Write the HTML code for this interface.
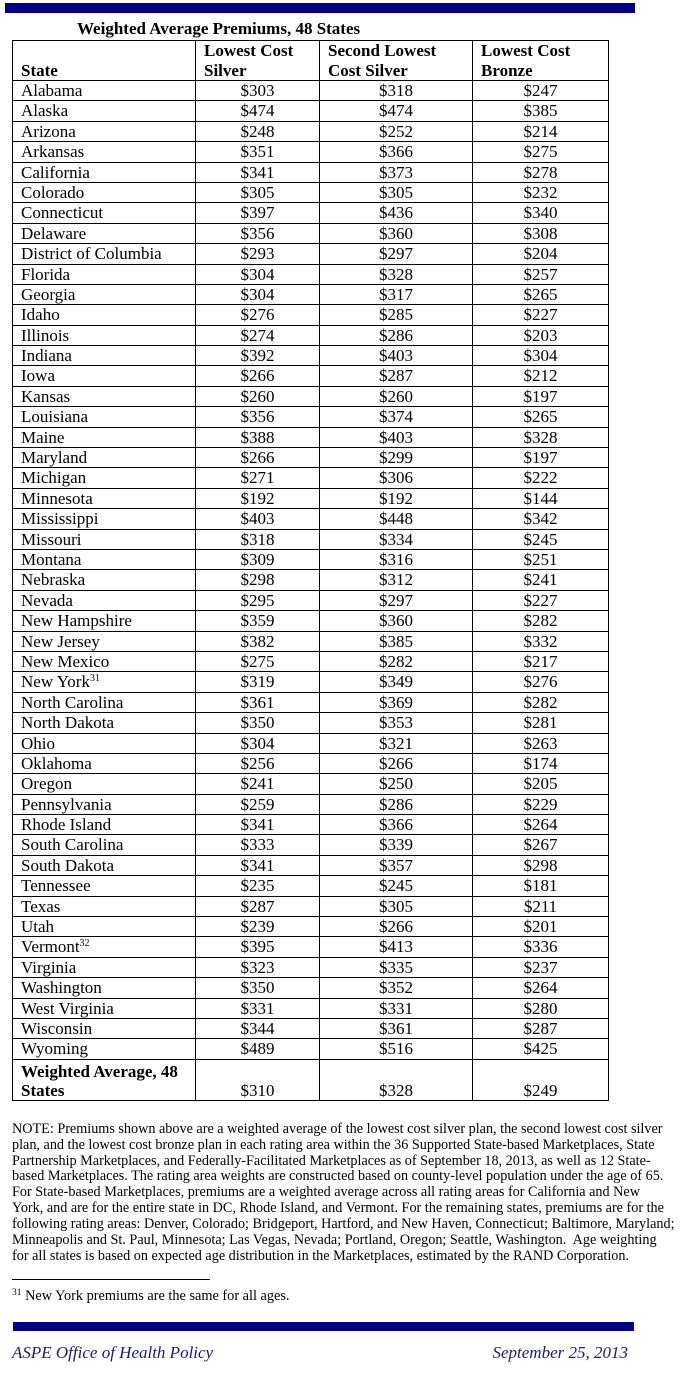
<!DOCTYPE html>
<html>
<head>
<meta charset="utf-8">
<style>
  html, body { margin:0; padding:0; background:#fff; }
  body { width:684px; height:1373px; position:relative; overflow:hidden; font-family:"Liberation Serif", serif; color:#000; }
  .bar { position:absolute; background:#000080; }
  .title { position:absolute; left:77px; top:18.5px; font-weight:bold; font-size:17px; line-height:20px; white-space:nowrap; }
  .t { position:absolute; left:12px; top:40px; width:597px; border:1px solid #000; box-sizing:border-box; font-size:17px; }
  .h, .r, .l { display:grid; grid-template-columns:183px 124px 153px 1fr; box-sizing:border-box; border-bottom:1px solid #000; }
  .h { height:40px; font-weight:bold; line-height:19.5px; }
  .r { height:20.406px; line-height:19.4px; }
  .l { height:40px; border-bottom:none; line-height:19px; }
  .h > div, .r > div, .l > div { border-right:1px solid #000; white-space:nowrap; overflow:visible; }
  .h > div:last-child, .r > div:last-child, .l > div:last-child { border-right:none; }
  .h > div { display:flex; flex-direction:column; justify-content:flex-end; padding-left:8px; }
  .r > div:first-child { padding-left:8px; }
  .r > div + div { text-align:center; }
  .l > div { display:flex; flex-direction:column; justify-content:flex-end; }
  .l > div:first-child { padding-left:8px; font-weight:bold; }
  .l > div + div { text-align:center; }
  sup { font-size:10px; line-height:0; vertical-align:6px; }
  .note { position:absolute; left:12px; top:1121.6px; font-size:14.2px; line-height:15.95px; white-space:nowrap; }
  .rule { position:absolute; left:12px; top:1279px; width:198px; height:1px; background:#000; }
  .fn { position:absolute; left:12px; top:1287.5px; font-size:14.3px; line-height:16px; white-space:nowrap; }
  .fn sup { font-size:9.5px; vertical-align:5px; }
  .foot { position:absolute; top:1343px; font-style:italic; font-size:17px; line-height:20px; color:#1a1a6e; white-space:nowrap; }
</style>
</head>
<body>
<div class="bar" style="left:5px; top:3px; width:630px; height:10px;"></div>
<div class="title">Weighted Average Premiums, 48 States</div>

<div class="t">
  <div class="h"><div>State</div><div><span>Lowest Cost</span><span>Silver</span></div><div><span>Second Lowest</span><span>Cost Silver</span></div><div><span>Lowest Cost</span><span>Bronze</span></div></div>
  <div class="r"><div>Alabama</div><div>$303</div><div>$318</div><div>$247</div></div>
  <div class="r"><div>Alaska</div><div>$474</div><div>$474</div><div>$385</div></div>
  <div class="r"><div>Arizona</div><div>$248</div><div>$252</div><div>$214</div></div>
  <div class="r"><div>Arkansas</div><div>$351</div><div>$366</div><div>$275</div></div>
  <div class="r"><div>California</div><div>$341</div><div>$373</div><div>$278</div></div>
  <div class="r"><div>Colorado</div><div>$305</div><div>$305</div><div>$232</div></div>
  <div class="r"><div>Connecticut</div><div>$397</div><div>$436</div><div>$340</div></div>
  <div class="r"><div>Delaware</div><div>$356</div><div>$360</div><div>$308</div></div>
  <div class="r"><div>District of Columbia</div><div>$293</div><div>$297</div><div>$204</div></div>
  <div class="r"><div>Florida</div><div>$304</div><div>$328</div><div>$257</div></div>
  <div class="r"><div>Georgia</div><div>$304</div><div>$317</div><div>$265</div></div>
  <div class="r"><div>Idaho</div><div>$276</div><div>$285</div><div>$227</div></div>
  <div class="r"><div>Illinois</div><div>$274</div><div>$286</div><div>$203</div></div>
  <div class="r"><div>Indiana</div><div>$392</div><div>$403</div><div>$304</div></div>
  <div class="r"><div>Iowa</div><div>$266</div><div>$287</div><div>$212</div></div>
  <div class="r"><div>Kansas</div><div>$260</div><div>$260</div><div>$197</div></div>
  <div class="r"><div>Louisiana</div><div>$356</div><div>$374</div><div>$265</div></div>
  <div class="r"><div>Maine</div><div>$388</div><div>$403</div><div>$328</div></div>
  <div class="r"><div>Maryland</div><div>$266</div><div>$299</div><div>$197</div></div>
  <div class="r"><div>Michigan</div><div>$271</div><div>$306</div><div>$222</div></div>
  <div class="r"><div>Minnesota</div><div>$192</div><div>$192</div><div>$144</div></div>
  <div class="r"><div>Mississippi</div><div>$403</div><div>$448</div><div>$342</div></div>
  <div class="r"><div>Missouri</div><div>$318</div><div>$334</div><div>$245</div></div>
  <div class="r"><div>Montana</div><div>$309</div><div>$316</div><div>$251</div></div>
  <div class="r"><div>Nebraska</div><div>$298</div><div>$312</div><div>$241</div></div>
  <div class="r"><div>Nevada</div><div>$295</div><div>$297</div><div>$227</div></div>
  <div class="r"><div>New Hampshire</div><div>$359</div><div>$360</div><div>$282</div></div>
  <div class="r"><div>New Jersey</div><div>$382</div><div>$385</div><div>$332</div></div>
  <div class="r"><div>New Mexico</div><div>$275</div><div>$282</div><div>$217</div></div>
  <div class="r"><div>New York<sup>31</sup></div><div>$319</div><div>$349</div><div>$276</div></div>
  <div class="r"><div>North Carolina</div><div>$361</div><div>$369</div><div>$282</div></div>
  <div class="r"><div>North Dakota</div><div>$350</div><div>$353</div><div>$281</div></div>
  <div class="r"><div>Ohio</div><div>$304</div><div>$321</div><div>$263</div></div>
  <div class="r"><div>Oklahoma</div><div>$256</div><div>$266</div><div>$174</div></div>
  <div class="r"><div>Oregon</div><div>$241</div><div>$250</div><div>$205</div></div>
  <div class="r"><div>Pennsylvania</div><div>$259</div><div>$286</div><div>$229</div></div>
  <div class="r"><div>Rhode Island</div><div>$341</div><div>$366</div><div>$264</div></div>
  <div class="r"><div>South Carolina</div><div>$333</div><div>$339</div><div>$267</div></div>
  <div class="r"><div>South Dakota</div><div>$341</div><div>$357</div><div>$298</div></div>
  <div class="r"><div>Tennessee</div><div>$235</div><div>$245</div><div>$181</div></div>
  <div class="r"><div>Texas</div><div>$287</div><div>$305</div><div>$211</div></div>
  <div class="r"><div>Utah</div><div>$239</div><div>$266</div><div>$201</div></div>
  <div class="r"><div>Vermont<sup>32</sup></div><div>$395</div><div>$413</div><div>$336</div></div>
  <div class="r"><div>Virginia</div><div>$323</div><div>$335</div><div>$237</div></div>
  <div class="r"><div>Washington</div><div>$350</div><div>$352</div><div>$264</div></div>
  <div class="r"><div>West Virginia</div><div>$331</div><div>$331</div><div>$280</div></div>
  <div class="r"><div>Wisconsin</div><div>$344</div><div>$361</div><div>$287</div></div>
  <div class="r"><div>Wyoming</div><div>$489</div><div>$516</div><div>$425</div></div>
  <div class="l"><div><span>Weighted Average, 48</span><span>States</span></div><div>$310</div><div>$328</div><div>$249</div></div>
</div>

<div class="note">
<div>NOTE: Premiums shown above are a weighted average of the lowest cost silver plan, the second lowest cost silver</div>
<div>plan, and the lowest cost bronze plan in each rating area within the 36 Supported State-based Marketplaces, State</div>
<div>Partnership Marketplaces, and Federally-Facilitated Marketplaces as of September 18, 2013, as well as 12 State-</div>
<div>based Marketplaces. The rating area weights are constructed based on county-level population under the age of 65.</div>
<div>For State-based Marketplaces, premiums are a weighted average across all rating areas for California and New</div>
<div>York, and are for the entire state in DC, Rhode Island, and Vermont. For the remaining states, premiums are for the</div>
<div>following rating areas: Denver, Colorado; Bridgeport, Hartford, and New Haven, Connecticut; Baltimore, Maryland;</div>
<div>Minneapolis and St. Paul, Minnesota; Las Vegas, Nevada; Portland, Oregon; Seattle, Washington.&nbsp; Age weighting</div>
<div>for all states is based on expected age distribution in the Marketplaces, estimated by the RAND Corporation.</div>
</div>

<div class="rule"></div>
<div class="fn"><sup>31</sup> New York premiums are the same for all ages.</div>

<div class="bar" style="left:13px; top:1322px; width:621px; height:9px;"></div>
<div class="foot" style="left:12px;">ASPE Office of Health Policy</div>
<div class="foot" style="right:56px;">September 25, 2013</div>
</body>
</html>
